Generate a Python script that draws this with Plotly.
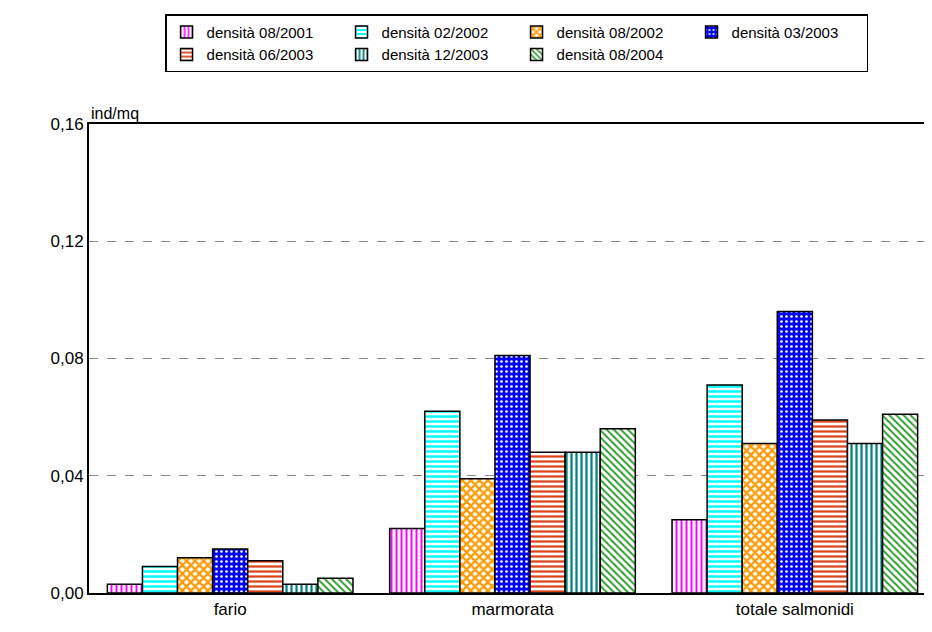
import plotly.graph_objects as go

categorie = ["fario", "marmorata", "totale salmonidi"]

serie = [
    "densità 08/2001",
    "densità 02/2002",
    "densità 08/2002",
    "densità 03/2003",
    "densità 06/2003",
    "densità 12/2003",
    "densità 08/2004",
]

d_08_2001 = [0.003, 0.022, 0.025]
d_02_2002 = [0.009, 0.062, 0.071]
d_08_2002 = [0.012, 0.039, 0.051]
d_03_2003 = [0.015, 0.081, 0.096]
d_06_2003 = [0.011, 0.048, 0.059]
d_12_2003 = [0.003, 0.048, 0.051]
d_08_2004 = [0.005, 0.056, 0.061]

valori = [d_08_2001, d_02_2002, d_08_2002, d_03_2003, d_06_2003, d_12_2003, d_08_2004]

y_ticks = [0, 0.04, 0.08, 0.12, 0.16]

# colore, sfondo, trama, dimensione e densità di ogni serie
stili = [
    ("#FF00FF", "white", "|", 5, 0.4),
    ("#00FFFF", "white", "-", 5, 0.5),
    ("#FF9900", "white", "x", 6, 0.6),
    ("white", "#0000FF", ".", 5, 0.22),
    ("#D9441A", "white", "-", 5, 0.45),
    ("#008080", "white", "|", 5, 0.45),
    ("#2E9B2E", "white", "\\", 5, 0.4),
]

fig = go.Figure()

for nome, vals, (fg, bg, shape, sz, sol) in zip(serie, valori, stili):
    fig.add_trace(go.Bar(
        x=categorie,
        y=vals,
        name=nome,
        marker=dict(
            color=bg,
            line=dict(color="black", width=1.5),
            pattern=dict(shape=shape, fgcolor=fg, bgcolor=bg, fgopacity=1,
                         size=sz, solidity=sol, fillmode="replace"),
        ),
    ))

fig.update_layout(
    width=932,
    height=632,
    barmode="group",
    bargap=0.13,
    bargroupgap=0,
    separators=",.",
    paper_bgcolor="white",
    plot_bgcolor="white",
    font=dict(family="Liberation Sans, Arial, sans-serif", color="black", size=15),
    margin=dict(l=81, r=4, t=116, b=47, autoexpand=False),
    showlegend=True,
    legend=dict(
        orientation="h",
        xref="container",
        yref="container",
        x=0.1685,
        y=0.99,
        xanchor="left",
        yanchor="top",
        bordercolor="black",
        borderwidth=1.5,
        font=dict(size=15),
        entrywidth=130,
        entrywidthmode="pixels",
        itemwidth=30,
        tracegroupgap=0,
    ),
    xaxis=dict(
        showline=True,
        linecolor="black",
        linewidth=2,
        mirror=True,
        ticks="",
        tickfont=dict(size=17),
        automargin=False,
    ),
    yaxis=dict(
        range=[0, 0.16],
        tickvals=y_ticks,
        tickformat=".2f",
        showline=True,
        linecolor="black",
        linewidth=2,
        showgrid=True,
        gridcolor="#888888",
        griddash="dash",
        gridwidth=1,
        zeroline=False,
        ticks="",
        ticklen=0,
        tickfont=dict(size=17),
        automargin=False,
    ),
    annotations=[dict(
        text="ind/mq",
        xref="paper", yref="paper",
        x=0, y=1.0,
        xanchor="left", yanchor="bottom",
        showarrow=False,
        font=dict(size=16),
    )],
)

fig.write_html("out.html")
